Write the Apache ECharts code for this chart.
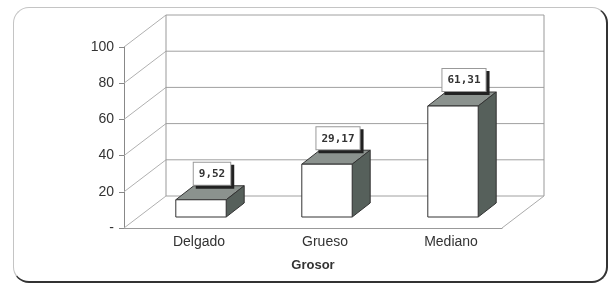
<!DOCTYPE html>
<html>
<head>
<meta charset="utf-8">
<script src="https://cdn.jsdelivr.net/npm/echarts@6/dist/echarts.min.js"></script>
<style>
    html, body { margin: 0; padding: 0; background: #fff; }
    #chart { position: absolute; left: 0; top: 0; width: 612px; height: 285px; }
    .frame {
        position: absolute; left: 13px; top: 7px; width: 592px; height: 273px;
        border: 1px solid #c4c4c4; border-right: 2px solid #333; border-bottom: 2px solid #333;
        border-radius: 16px; pointer-events: none;
    }
</style>
</head>
<body>
<div id="chart"></div>
<div class="frame"></div>
<script>
const categories = ['Delgado', 'Grueso', 'Mediano'];
const values = [9.52, 29.17, 61.31];
const yTicks = [0, 20, 40, 60, 80, 100];

// desplazamientos de profundidad (px)
const wallDepth = [42, -32];
const barFront = [14, -11];
const barDepth = [18, -14];

const myChart = echarts.init(document.getElementById('chart'));

function renderWalls(params, api) {
    const cs = params.coordSys;
    const x0 = cs.x, x1 = cs.x + cs.width;
    const dx = wallDepth[0], dy = wallDepth[1];
    const yTop = api.coord([0, 100])[1];
    const yZero = api.coord([0, 0])[1];
    const children = [];
    const line = (a, b, color) => children.push({
        type: 'line',
        shape: { x1: a[0], y1: a[1], x2: b[0], y2: b[1] },
        style: { stroke: color, lineWidth: 1 }
    });
    yTicks.forEach(t => {
        const y = api.coord([0, t])[1];
        // linea diagonal en la pared izquierda + linea en la pared del fondo
        line([x0, y], [x0 + dx, y + dy], '#b0b0b0');
        line([x0 + dx, y + dy], [x1 + dx, y + dy], '#a0a0a0');
    });
    line([x0 + dx, yTop + dy], [x0 + dx, yZero + dy], '#999');
    line([x1 + dx, yTop + dy], [x1 + dx, yZero + dy], '#999');
    line([x1, yZero], [x1 + dx, yZero + dy], '#aaa');
    return { type: 'group', children: children };
}

function labelStyle(text, x, y, shadow) {
    return {
        text: text,
        x: x + (shadow ? 3 : 0),
        y: y + (shadow ? 3 : 0),
        align: 'center',
        verticalAlign: 'bottom',
        font: 'bold 11px "DejaVu Sans Mono"',
        fill: shadow ? '#222' : '#333',
        backgroundColor: shadow ? '#222' : '#fff',
        borderColor: shadow ? '#222' : '#999',
        borderWidth: 1,
        padding: [6, 5, 5, 5]
    };
}

function renderBar(params, api) {
    const idx = api.value(0);
    const v = api.value(1);
    const base = api.coord([idx, 0]);
    const top = api.coord([idx, v]);
    const w = api.size([1, 0])[0] * 0.4;
    const xa = base[0] + barFront[0] - w / 2;
    const xb = xa + w;
    const yb = base[1] + barFront[1];
    const yt = top[1] + barFront[1];
    const ddx = barDepth[0], ddy = barDepth[1];
    const txt = v.toFixed(2).replace('.', ',');
    const lx = xa + w / 2 + 11, ly = yt + ddy - 1;
    return {
        type: 'group',
        children: [
            {
                type: 'polygon',
                shape: { points: [[xa, yt], [xb, yt], [xb + ddx, yt + ddy], [xa + ddx, yt + ddy]] },
                style: { fill: '#8b928e', stroke: '#333', lineWidth: 1 }
            },
            {
                type: 'polygon',
                shape: { points: [[xb, yt], [xb + ddx, yt + ddy], [xb + ddx, yb + ddy], [xb, yb]] },
                style: { fill: '#56605b', stroke: '#333', lineWidth: 1 }
            },
            {
                type: 'rect',
                shape: { x: xa, y: yt, width: w, height: yb - yt },
                style: { fill: '#fff', stroke: '#333', lineWidth: 1 }
            },
            { type: 'text', style: labelStyle(txt, lx, ly, true) },
            { type: 'text', style: labelStyle(txt, lx, ly, false) }
        ]
    };
}

myChart.setOption({
    animation: false,
    grid: { left: 124, top: 47, width: 378, height: 181 },
    xAxis: {
        type: 'category',
        data: categories,
        name: 'Grosor',
        nameLocation: 'middle',
        nameGap: 31,
        nameTextStyle: { fontFamily: 'Liberation Sans', fontSize: 13, fontWeight: 'bold', color: '#333' },
        axisLine: { lineStyle: { color: '#999' } },
        axisTick: { show: false },
        axisLabel: {
            fontFamily: 'Liberation Sans', fontSize: 14, color: '#333',
            margin: 7, padding: [0, 0, 0, 24]
        }
    },
    yAxis: {
        type: 'value',
        min: 0,
        max: 100,
        interval: 20,
        axisLine: { show: true, lineStyle: { color: '#888' } },
        axisTick: { show: true, length: 5, lineStyle: { color: '#888' } },
        splitLine: { show: false },
        axisLabel: {
            fontFamily: 'Liberation Sans', fontSize: 14, color: '#333', margin: 10,
            formatter: function (v) { return v === 0 ? '-' : String(v); }
        }
    },
    series: [
        {
            type: 'custom',
            renderItem: renderWalls,
            data: [[0, 0]],
            silent: true,
            z: 1
        },
        {
            type: 'custom',
            renderItem: renderBar,
            data: categories.map((c, i) => [i, values[i]]),
            encode: { x: 0, y: 1 },
            z: 2
        }
    ]
});
</script>
</body>
</html>
